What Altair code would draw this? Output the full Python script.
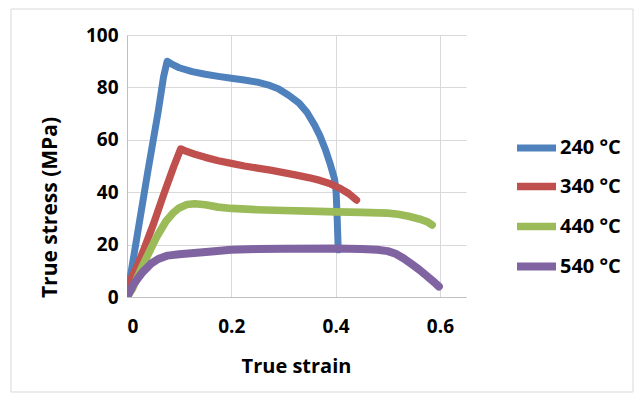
import altair as alt
import pandas as pd

labels = ["240 °C", "340 °C", "440 °C", "540 °C"]
colors = ["#4F81BD", "#C0504D", "#9BBB59", "#8064A2"]
widths = [7, 8, 9, 3.5]

s240_x = [0, 0.02, 0.04, 0.06, 0.07, 0.077, 0.085, 0.1, 0.125, 0.15, 0.175, 0.2, 0.225, 0.25, 0.27, 0.29, 0.31, 0.33,
          0.345, 0.36, 0.37, 0.38, 0.39, 0.398, 0.401, 0.403, 0.404, 0.405]
s240_y = [0, 24, 48, 71, 84, 90, 89, 87.5, 86, 85, 84.2, 83.5, 82.8, 82, 81, 79.5, 77, 74,
          70.5, 65.5, 61.5, 56.5, 50.5, 45, 40, 30, 24, 18]

s340_x = [0, 0.008, 0.02, 0.032, 0.051, 0.07, 0.09, 0.103, 0.115, 0.13, 0.15, 0.175, 0.2, 0.225, 0.25, 0.275, 0.3,
          0.325, 0.35, 0.37, 0.39, 0.41, 0.425, 0.44]
s340_y = [0, 7, 12, 18, 28, 39, 50, 56.5, 55.5, 54.5, 53.3, 52, 51, 50, 49.2, 48.4, 47.5,
          46.5, 45.5, 44.5, 43.2, 41.3, 39.5, 37]

s440_x = [0, 0.01, 0.03, 0.057, 0.075, 0.088, 0.1, 0.115, 0.13, 0.15, 0.175, 0.2, 0.25, 0.3, 0.35, 0.4, 0.45, 0.5,
          0.52, 0.54, 0.56, 0.575, 0.585]
s440_y = [0, 3, 12, 23, 29, 32, 34, 35.3, 35.6, 35.2, 34.3, 33.8, 33.3, 33, 32.8, 32.5, 32.3, 32,
          31.6, 30.8, 29.8, 28.8, 27.5]

s540_x = [0, 0.013, 0.03, 0.046, 0.06, 0.078, 0.1, 0.14, 0.2, 0.25, 0.3, 0.4, 0.45, 0.48, 0.5, 0.515, 0.53, 0.545,
          0.56, 0.575, 0.59, 0.598]
s540_y = [0, 5, 9.5, 12.7, 14.5, 15.8, 16.3, 17, 18, 18.3, 18.4, 18.5, 18.3, 18, 17.5, 16.5, 14.8, 12.7,
          10.5, 8, 5.5, 4]

xs = [s240_x, s340_x, s440_x, s540_x]
ys = [s240_y, s340_y, s440_y, s540_y]

rows = []
for lab, sx, sy in zip(labels, xs, ys):
    for i, (a, b) in enumerate(zip(sx, sy)):
        rows.append({"series": lab, "sw": lab, "strain": a, "stress": b, "i": i})
df = pd.DataFrame(rows)

FONT = "Open Sans"

xscale = alt.Scale(domain=[0, 0.65], nice=False, zero=False)
yscale = alt.Scale(domain=[0, 100], nice=False)

xenc = alt.X(
    "strain:Q", scale=xscale,
    axis=alt.Axis(title="True strain", values=[0, 0.2, 0.4, 0.6], format="~g",
                  labelPadding=20, titleX=169, titleY=69, titleBaseline="middle",
                  titleAlign="center"),
)
yenc = alt.Y(
    "stress:Q", scale=yscale,
    axis=alt.Axis(title="True stress (MPa)", values=[0, 20, 40, 60, 80, 100],
                  labelPadding=9, titleX=-77, titleY=172, titleBaseline="middle",
                  titleAlign="center", titleFontSize=21),
)

leg_kwargs = dict(
    title=None, orient="none", legendX=386, legendY=90,
    symbolType="stroke", symbolSize=1521, symbolStrokeWidth=2.5,
    rowPadding=1, labelOffset=0,
    labelFont=FONT, labelFontSize=20, labelFontWeight="bold", labelColor="#000000",
)


def build(leg):
    lines = alt.Chart(df).mark_line(clip=True, strokeJoin="round", strokeCap="round").encode(
        x=xenc,
        y=yenc,
        stroke=alt.Stroke("series:N", scale=alt.Scale(domain=labels, range=colors), legend=leg),
        strokeWidth=alt.StrokeWidth("sw:N", scale=alt.Scale(domain=labels, range=widths), legend=None),
        order="i:Q",
        detail="series:N",
    )

    frame_df = pd.DataFrame({"k": [0]})
    frame = alt.Chart(frame_df).mark_rect(filled=False, stroke="#d9d9d9", strokeWidth=1).encode(
        x=alt.value(-116), x2=alt.value(506), y=alt.value(-26), y2=alt.value(357)
    )

    return alt.layer(frame, lines).properties(
        width=339, height=262,
        padding={"left": 2, "top": 0, "right": 0, "bottom": 0},
    ).configure_view(stroke=None).configure_axis(
        labelFont=FONT, labelFontSize=19, labelFontWeight="bold", labelColor="#000000",
        titleFont=FONT, titleFontSize=20, titleFontWeight="bold", titleColor="#000000",
        gridColor="#d9d9d9", domainColor="#bfbfbf", ticks=False, grid=True,
    )


try:
    chart = build(alt.Legend(encode={"symbols": {"strokeWidth": {"value": 2.5}}}, **leg_kwargs))
    chart.save("out.html", embed_options={"renderer": "svg", "actions": False})
except Exception:
    chart = build(alt.Legend(**leg_kwargs))
    chart.save("out.html", embed_options={"renderer": "svg", "actions": False})
